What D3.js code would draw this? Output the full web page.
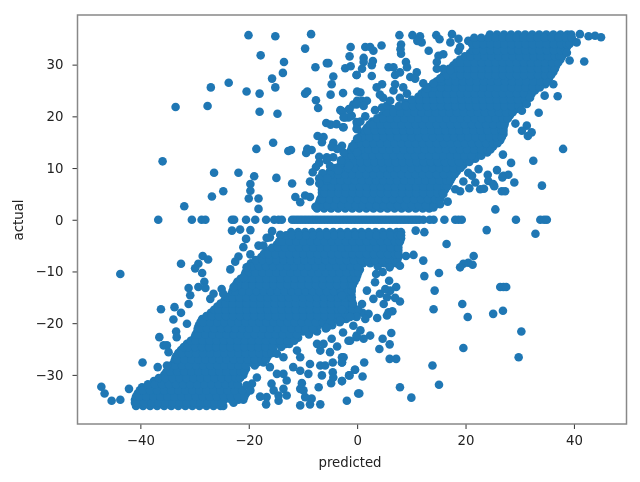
<!DOCTYPE html>
<html>
<head>
<meta charset="utf-8">
<script src="https://cdn.jsdelivr.net/npm/d3@7"></script>
<style>
html,body{margin:0;padding:0;background:#fff;}
svg{display:block;filter:blur(0.45px);}
text{font-family:"DejaVu Sans",sans-serif;fill:#222;}
</style>
</head>
<body>
<svg id="chart" width="640" height="482"></svg>
<script>
const xTicks=[-40,-20,0,20,40];
const yTicks=[-30,-20,-10,0,10,20,30];
const xLabel="predicted";
const yLabel="actual";

// Dense upper cloud, read row by row: one actual value per row, then the predicted values
const upperActual=[2.2,3.4,4.6,5.8,7,8.2,9.4,10.6,11.8,13,14.2,15.4,16.6,17.8,19,20.2,21.4,22.6,23.8,25,26.2,27.4,28.6,29.8,31,32.2,33.4,34.6,35.8];
const upperPredicted=[
[-7.4,-6.1,-4.8,-3.5,-2.2,-0.9,0.4,1.7,3,4.3,5.6,6.9,8.2,9.5,10.8,12.1,13.3],
[-7,-5.5,-4.2,-2.9,-1.6,-0.3,1,2.3,3.6,4.9,6.2,7.5,8.8,10.1,11.4,12.7,14,15.1],
[-6.5,-5.2,-3.9,-2.6,-1.3,0,1.3,2.6,3.9,5.2,6.5,7.8,9.1,10.4,11.7,13,14.3,15.5],
[-6.5,-5.8,-4.5,-3.2,-1.9,-0.6,0.7,2,3.3,4.6,5.9,7.2,8.5,9.8,11.1,12.4,13.7,15,16.2],
[-6.5,-5.2,-3.9,-2.6,-1.3,0,1.3,2.6,3.9,5.2,6.5,7.8,9.1,10.4,11.7,13,14.3,15.6,16.9],
[-5.9,-4.5,-3.2,-1.9,-0.6,0.7,2,3.3,4.6,5.9,7.2,8.5,9.8,11.1,12.4,13.7,15,16.3,17.5],
[-5,-3.7,-2.4,-1.1,0.2,1.5,2.8,4.1,5.4,6.7,8,9.3,10.6,11.9,13.2,14.5,15.8,17.1,18.4],
[-3.1,-1.8,-0.5,0.8,2.1,3.4,4.7,6,7.3,8.6,9.9,11.2,12.5,13.8,15.1,16.4,17.7,19,19.6],
[-2.2,-0.9,0.4,1.7,3,4.3,5.6,6.9,8.2,9.5,10.8,12.1,13.4,14.7,16,17.3,18.6,19.9,21.2,21.8],
[-1.3,-0.4,0.9,2.2,3.5,4.8,6.1,7.4,8.7,10,11.3,12.6,13.9,15.2,16.5,17.8,19.1,20.4,21.7,23,24],
[-0.9,0.4,1.7,3,4.3,5.6,6.9,8.2,9.5,10.8,12.1,13.4,14.7,16,17.3,18.6,19.9,21.2,22.5,23.8,25.1],
[0,1.1,2.4,3.7,5,6.3,7.6,8.9,10.2,11.5,12.8,14.1,15.4,16.7,18,19.3,20.6,21.9,23.2,24.5,25.8,26.4],
[0.9,2.2,3.5,4.8,6.1,7.4,8.7,10,11.3,12.6,13.9,15.2,16.5,17.8,19.1,20.4,21.7,23,24.3,25.6,27],
[1.8,2.9,4.2,5.5,6.8,8.1,9.4,10.7,12,13.3,14.6,15.9,17.2,18.5,19.8,21.1,22.4,23.7,25,26.3,27],
[2.8,4.1,5.4,6.7,8,9.3,10.6,11.9,13.2,14.5,15.8,17.1,18.4,19.7,21,22.3,23.6,24.9,26.2,27.3],
[4.6,5.5,6.8,8.1,9.4,10.7,12,13.3,14.6,15.9,17.2,18.5,19.8,21.1,22.4,23.7,25,26.3,27.6,28.2],
[6.5,7.8,9.1,10.4,11.7,13,14.3,15.6,16.9,18.2,19.5,20.8,22.1,23.4,24.7,26,27.3,28.6,29.2],
[8.9,9.9,11.2,12.5,13.8,15.1,16.4,17.7,19,20.3,21.6,22.9,24.2,25.5,26.8,28.1,29.4,30.4],
[11.3,12.6,13.9,15.2,16.5,17.8,19.1,20.4,21.7,23,24.3,25.6,26.9,28.2,29.5,30.8,31.6],
[12.5,13.6,14.9,16.2,17.5,18.8,20.1,21.4,22.7,24,25.3,26.6,27.9,29.2,30.5,31.8,32.8],
[14,15.3,16.6,17.9,19.2,20.5,21.8,23.1,24.4,25.7,27,28.3,29.6,30.9,32.2,33.5,34.7],
[15.5,16.5,17.8,19.1,20.4,21.7,23,24.3,25.6,26.9,28.2,29.5,30.8,32.1,33.4,34.7,35.4],
[16.4,17.7,19,20.3,21.6,22.9,24.2,25.5,26.8,28.1,29.4,30.7,32,33.3,34.6,35.9,36.2],
[17.7,18.9,20.2,21.5,22.8,24.1,25.4,26.7,28,29.3,30.6,31.9,33.2,34.5,35.8,36.7],
[19,20.3,21.6,22.9,24.2,25.5,26.8,28.1,29.4,30.7,32,33.3,34.6,35.9,37.2,37.5],
[20.8,21.9,23.2,24.5,25.8,27.1,28.4,29.7,31,32.3,33.6,34.9,36.2,37.5,38],
[21.8,23.1,24.4,25.7,27,28.3,29.6,30.9,32.2,33.5,34.8,36.1,37.4,38.7],
[20.5,21.7,23,24.3,25.6,26.9,28.2,29.5,30.8,32.1,33.4,34.7,36,37.3,38.6,39.7],
[24.5,25.8,27.1,28.4,29.7,31,32.3,33.6,34.9,36.2,37.5,38.8,39.5]
];
const upperMidActual=[2.8,4,5.2,6.4,7.6,8.8,10,11.2,12.4,13.6,14.8,16,17.2,18.4,19.6,20.8,22,23.2,24.4,25.6,26.8,28,29.2,30.4,31.6,32.8,34,35.2];
const upperMidPredicted=[
[-7.2,-6.8,-5.5,-4.2,-2.9,-1.6,-0.3,1,2.3,3.6,4.9,6.2,7.5,8.8,10.1,11.4,12.7,14.2],
[-6.8,-6.4,-5.1,-3.8,-2.5,-1.2,0.1,1.4,2.7,4,5.3,6.6,7.9,9.2,10.5,11.8,13.1,14.4,15.3],
[-6.5,-6,-4.7,-3.4,-2.1,-0.8,0.5,1.8,3.1,4.4,5.7,7,8.3,9.6,10.9,12.2,13.5,14.8,15.8],
[-6.5,-6,-4.7,-3.4,-2.1,-0.8,0.5,1.8,3.1,4.4,5.7,7,8.3,9.6,10.9,12.2,13.5,14.8,16.1,16.6],
[-6.2,-5.6,-4.3,-3,-1.7,-0.4,0.9,2.2,3.5,4.8,6.1,7.4,8.7,10,11.3,12.6,13.9,15.2,16.5,17.2],
[-5.4,-4.8,-3.5,-2.2,-0.9,0.4,1.7,3,4.3,5.6,6.9,8.2,9.5,10.8,12.1,13.4,14.7,16,17.3,18],
[-4,-3,-1.7,-0.4,0.9,2.2,3.5,4.8,6.1,7.4,8.7,10,11.3,12.6,13.9,15.2,16.5,17.8,19.1],
[-2.6,-2,-0.7,0.6,1.9,3.2,4.5,5.8,7.1,8.4,9.7,11,12.3,13.6,14.9,16.2,17.5,18.8,20.7],
[-1.7,-1,0.3,1.6,2.9,4.2,5.5,6.8,8.1,9.4,10.7,12,13.3,14.6,15.9,17.2,18.5,19.8,21.1,22.9],
[-1.1,-0.5,0.8,2.1,3.4,4.7,6,7.3,8.6,9.9,11.2,12.5,13.8,15.1,16.4,17.7,19,20.3,21.6,22.9,24,24.6],
[-0.4,0.4,1.7,3,4.3,5.6,6.9,8.2,9.5,10.8,12.1,13.4,14.7,16,17.3,18.6,19.9,21.2,22.5,23.8,25.1,25.9],
[0.5,1,2.3,3.6,4.9,6.2,7.5,8.8,10.1,11.4,12.7,14,15.3,16.6,17.9,19.2,20.5,21.8,23.1,24.4,25.7,26.7],
[1.4,2,3.3,4.6,5.9,7.2,8.5,9.8,11.1,12.4,13.7,15,16.3,17.6,18.9,20.2,21.5,22.8,24.1,25.4,26.7,27],
[2.3,3,4.3,5.6,6.9,8.2,9.5,10.8,12.1,13.4,14.7,16,17.3,18.6,19.9,21.2,22.5,23.8,25.1,26.4,27.2],
[3.7,4.8,6.1,7.4,8.7,10,11.3,12.6,13.9,15.2,16.5,17.8,19.1,20.4,21.7,23,24.3,25.6,26.9,27.8],
[5.5,6.7,8,9.3,10.6,11.9,13.2,14.5,15.8,17.1,18.4,19.7,21,22.3,23.6,24.9,26.2,27.5,28.7],
[7.7,9,10.3,11.6,12.9,14.2,15.5,16.8,18.1,19.4,20.7,22,23.3,24.6,25.9,27.2,28.5,29.8],
[10.1,11.5,12.8,14.1,15.4,16.7,18,19.3,20.6,21.9,23.2,24.5,25.8,27.1,28.4,29.7,31],
[11.9,12.6,13.9,15.2,16.5,17.8,19.1,20.4,21.7,23,24.3,25.6,26.9,28.2,29.5,30.8,32.2],
[13.2,14.2,15.5,16.8,18.1,19.4,20.7,22,23.3,24.6,25.9,27.2,28.5,29.8,31.1,32.4,33.7],
[14.7,15.6,16.9,18.2,19.5,20.8,22.1,23.4,24.7,26,27.3,28.6,29.9,31.2,32.5,33.8,35],
[16,16.5,17.8,19.1,20.4,21.7,23,24.3,25.6,26.9,28.2,29.5,30.8,32.1,33.4,34.7,35.8],
[17,17.8,19.1,20.4,21.7,23,24.3,25.6,26.9,28.2,29.5,30.8,32.1,33.4,34.7,36,36.5],
[18.3,19.1,20.4,21.7,23,24.3,25.6,26.9,28.2,29.5,30.8,32.1,33.4,34.7,36,37.1],
[19.9,20.9,22.2,23.5,24.8,26.1,27.4,28.7,30,31.3,32.6,33.9,35.2,36.5,37.4,37.8],
[21.3,22,23.3,24.6,25.9,27.2,28.5,29.8,31.1,32.4,33.7,35,36.3,37.6,38.4],
[21.2,22,23.3,24.6,25.9,27.2,28.5,29.8,31.1,32.4,33.7,35,36.3,37.6,38.6,39.2],
[21.6,22.9,24.2,25.5,26.8,28.1,29.4,30.7,32,33.3,34.6,35.9,37.2,38.5,39.6]
];

// Dense lower cloud
const lowerActual=[-36,-34.8,-33.6,-32.4,-31.2,-30,-28.8,-27.6,-26.4,-25.2,-24,-22.8,-21.6,-20.4,-19.2,-18,-16.8,-15.6,-14.4,-13.2,-12,-10.8,-9.6,-8.4,-7.2,-6,-4.8,-3.6,-2.4];
const lowerPredicted=[
[-40.8,-39.5,-38.2,-36.9,-35.6,-34.3,-33,-31.7,-30.4,-29.1,-27.8,-26.5,-25.2,-24.7],
[-41,-40.1,-38.8,-37.5,-36.2,-34.9,-33.6,-32.3,-31,-29.7,-28.4,-27.1,-25.8,-24.5,-23.2,-21.9,-21],
[-40.5,-39.5,-38.2,-36.9,-35.6,-34.3,-33,-31.7,-30.4,-29.1,-27.8,-26.5,-25.2,-23.9,-22.6,-21.3,-20.5],
[-39.7,-38.8,-37.5,-36.2,-34.9,-33.6,-32.3,-31,-29.7,-28.4,-27.1,-25.8,-24.5,-23.2,-21.9],
[-37.5,-36.2,-34.9,-33.6,-32.3,-31,-29.7,-28.4,-27.1,-25.8,-24.5,-23.2,-22.3],
[-35.6,-34.7,-33.4,-32.1,-30.8,-29.5,-28.2,-26.9,-25.6,-24.3,-23,-21.7,-21],
[-34.7,-33.4,-32.1,-30.8,-29.5,-28.2,-26.9,-25.6,-24.3,-23,-21.7,-20.5],
[-33.8,-32.7,-31.4,-30.1,-28.8,-27.5,-26.2,-24.9,-23.6,-22.3,-21,-19.7,-18.4,-17.3],
[-33.4,-32.1,-30.8,-29.5,-28.2,-26.9,-25.6,-24.3,-23,-21.7,-20.4,-19.1,-17.8,-16.5],
[-32.5,-31.4,-30.1,-28.8,-27.5,-26.2,-24.9,-23.6,-22.3,-21,-19.7,-18.4,-17.1,-15.8,-15.5],
[-31.4,-30.1,-28.8,-27.5,-26.2,-24.9,-23.6,-22.3,-21,-19.7,-18.4,-17.1,-15.8,-14.5,-13.2,-12.5],
[-30,-29.1,-27.8,-26.5,-25.2,-23.9,-22.6,-21.3,-20,-18.7,-17.4,-16.1,-14.8,-13.5,-12.2,-10.9],
[-29.5,-28.2,-26.9,-25.6,-24.3,-23,-21.7,-20.4,-19.1,-17.8,-16.5,-15.2,-13.9,-12.6,-11.3,-10,-8.7,-7.4],
[-29.2,-28,-26.7,-25.4,-24.1,-22.8,-21.5,-20.2,-18.9,-17.6,-16.3,-15,-13.7,-12.4,-11.1,-9.8,-8.5,-7.2,-5.9,-4.6],
[-28.6,-27.3,-26,-24.7,-23.4,-22.1,-20.8,-19.5,-18.2,-16.9,-15.6,-14.3,-13,-11.7,-10.4,-9.1,-7.8,-6.5,-5.2,-3.9,-2.6,-2],
[-27,-25.8,-24.5,-23.2,-21.9,-20.6,-19.3,-18,-16.7,-15.4,-14.1,-12.8,-11.5,-10.2,-8.9,-7.6,-6.3,-5,-3.7,-2.4,-1.1,0.2,1],
[-25.8,-24.5,-23.2,-21.9,-20.6,-19.3,-18,-16.7,-15.4,-14.1,-12.8,-11.5,-10.2,-8.9,-7.6,-6.3,-5,-3.7,-2.4,-1.1,-0.7],
[-24.5,-23.6,-22.3,-21,-19.7,-18.4,-17.1,-15.8,-14.5,-13.2,-11.9,-10.6,-9.3,-8,-6.7,-5.4,-4.1,-2.8,-1.5,-1],
[-23.2,-21.9,-20.6,-19.3,-18,-16.7,-15.4,-14.1,-12.8,-11.5,-10.2,-8.9,-7.6,-6.3,-5,-3.7,-2.4,-1.1],
[-22.7,-21.4,-20.1,-18.8,-17.5,-16.2,-14.9,-13.6,-12.3,-11,-9.7,-8.4,-7.1,-5.8,-4.5,-3.2,-1.9,-1],
[-22.1,-20.8,-19.5,-18.2,-16.9,-15.6,-14.3,-13,-11.7,-10.4,-9.1,-7.8,-6.5,-5.2,-3.9,-2.6,-1.3,-0.5],
[-20.8,-19.9,-18.6,-17.3,-16,-14.7,-13.4,-12.1,-10.8,-9.5,-8.2,-6.9,-5.6,-4.3,-3,-1.7,-0.4,0],
[-20.3,-19,-17.7,-16.4,-15.1,-13.8,-12.5,-11.2,-9.9,-8.6,-7.3,-6,-4.7,-3.4,-2.1,-0.8,0.5],
[-19.6,-18.4,-17.1,-15.8,-14.5,-13.2,-11.9,-10.6,-9.3,-8,-6.7,-5.4,-4.1,-2.8,-1.5,-0.2,1.1,2.4,3.7,5,6.3,7.2],
[-17.7,-16.4,-15.1,-13.8,-12.5,-11.2,-9.9,-8.6,-7.3,-6,-4.7,-3.4,-2.1,-0.8,0.5,1.8,3.1,4.4,5.7,7,7.6],
[-16.6,-15.7,-14.4,-13.1,-11.8,-10.5,-9.2,-7.9,-6.6,-5.3,-4,-2.7,-1.4,-0.1,1.2,2.5,3.8,5.1,6.4,7.6],
[-14.8,-13.5,-12.2,-10.9,-9.6,-8.3,-7,-5.7,-4.4,-3.1,-1.8,-0.5,0.8,2.1,3.4,4.7,6,7.3,7.6],
[-14,-12.8,-11.5,-10.2,-8.9,-7.6,-6.3,-5,-3.7,-2.4,-1.1,0.2,1.5,2.8,4.1,5.4,6.7,8,8.1],
[-12.2,-10.9,-9.6,-8.3,-7,-5.7,-4.4,-3.1,-1.8,-0.5,0.8,2.1,3.4,4.7,6,7.3,8.1]
];
const lowerMidActual=[-35.4,-34.2,-33,-31.8,-30.6,-29.4,-28.2,-27,-25.8,-24.6,-23.4,-22.2,-21,-19.8,-18.6,-17.4,-16.2,-15,-13.8,-12.6,-11.4,-10.2,-9,-7.8,-6.6,-5.4,-4.2,-3];
const lowerMidPredicted=[
[-41,-40.6,-39.3,-38,-36.7,-35.4,-34.1,-32.8,-31.5,-30.2,-28.9,-27.6,-26.3,-25,-22.8],
[-40.8,-40.2,-38.9,-37.6,-36.3,-35,-33.7,-32.4,-31.1,-29.8,-28.5,-27.2,-25.9,-24.6,-23.3,-22,-20.8],
[-40.1,-39.5,-38.2,-36.9,-35.6,-34.3,-33,-31.7,-30.4,-29.1,-27.8,-26.5,-25.2,-23.9,-22.6,-21.2],
[-38.6,-37.3,-36,-34.7,-33.4,-32.1,-30.8,-29.5,-28.2,-26.9,-25.6,-24.3,-23,-22],
[-36.6,-35.4,-34.1,-32.8,-31.5,-30.2,-28.9,-27.6,-26.3,-25,-23.7,-22.4,-21.6],
[-35.2,-34.5,-33.2,-31.9,-30.6,-29.3,-28,-26.7,-25.4,-24.1,-22.8,-21.5,-20.8],
[-34.3,-33.6,-32.3,-31,-29.7,-28.4,-27.1,-25.8,-24.5,-23.2,-21.9,-20.6,-18.9],
[-33.6,-33.2,-31.9,-30.6,-29.3,-28,-26.7,-25.4,-24.1,-22.8,-21.5,-20.2,-18.9,-17.6,-16.8],
[-33,-32.3,-31,-29.7,-28.4,-27.1,-25.8,-24.5,-23.2,-21.9,-20.6,-19.3,-18,-16.7,-15.8],
[-32,-31.2,-29.9,-28.6,-27.3,-26,-24.7,-23.4,-22.1,-20.8,-19.5,-18.2,-16.9,-15.6,-14],
[-30.7,-29.8,-28.5,-27.2,-25.9,-24.6,-23.3,-22,-20.7,-19.4,-18.1,-16.8,-15.5,-14.2,-12.9,-11.6],
[-29.8,-29.3,-28,-26.7,-25.4,-24.1,-22.8,-21.5,-20.2,-18.9,-17.6,-16.3,-15,-13.7,-12.4,-11.1,-8.9],
[-29.4,-29,-27.7,-26.4,-25.1,-23.8,-22.5,-21.2,-19.9,-18.6,-17.3,-16,-14.7,-13.4,-12.1,-10.8,-9.5,-8.2,-5.8],
[-28.9,-28.4,-27.1,-25.8,-24.5,-23.2,-21.9,-20.6,-19.3,-18,-16.7,-15.4,-14.1,-12.8,-11.5,-10.2,-8.9,-7.6,-6.3,-5,-3.2],
[-27.8,-26.8,-25.5,-24.2,-22.9,-21.6,-20.3,-19,-17.7,-16.4,-15.1,-13.8,-12.5,-11.2,-9.9,-8.6,-7.3,-6,-4.7,-3.4,-2.1,-0.5],
[-26.4,-25.6,-24.3,-23,-21.7,-20.4,-19.1,-17.8,-16.5,-15.2,-13.9,-12.6,-11.3,-10,-8.7,-7.4,-6.1,-4.8,-3.5,-2.2,-0.9,0.2],
[-25.2,-24.3,-23,-21.7,-20.4,-19.1,-17.8,-16.5,-15.2,-13.9,-12.6,-11.3,-10,-8.7,-7.4,-6.1,-4.8,-3.5,-2.2,-0.8],
[-23.9,-23,-21.7,-20.4,-19.1,-17.8,-16.5,-15.2,-13.9,-12.6,-11.3,-10,-8.7,-7.4,-6.1,-4.8,-3.5,-2.2,-1],
[-23,-22.5,-21.2,-19.9,-18.6,-17.3,-16,-14.7,-13.4,-12.1,-10.8,-9.5,-8.2,-6.9,-5.6,-4.3,-3,-1.7,-1],
[-22.4,-21.9,-20.6,-19.3,-18,-16.7,-15.4,-14.1,-12.8,-11.5,-10.2,-8.9,-7.6,-6.3,-5,-3.7,-2.4,-1.1,-0.8],
[-21.5,-20.6,-19.3,-18,-16.7,-15.4,-14.1,-12.8,-11.5,-10.2,-8.9,-7.6,-6.3,-5,-3.7,-2.4,-1.1,-0.2],
[-20.6,-20.1,-18.8,-17.5,-16.2,-14.9,-13.6,-12.3,-11,-9.7,-8.4,-7.1,-5.8,-4.5,-3.2,-1.9,-0.6,0.2],
[-20,-19.4,-18.1,-16.8,-15.5,-14.2,-12.9,-11.6,-10.3,-9,-7.7,-6.4,-5.1,-3.8,-2.5,-1.2,0.1,3.8],
[-18.7,-17.5,-16.2,-14.9,-13.6,-12.3,-11,-9.7,-8.4,-7.1,-5.8,-4.5,-3.2,-1.9,-0.6,0.7,2,3.3,4.6,5.9,7,7.4],
[-17.2,-16.4,-15.1,-13.8,-12.5,-11.2,-9.9,-8.6,-7.3,-6,-4.7,-3.4,-2.1,-0.8,0.5,1.8,3.1,4.4,5.7,7,7.6],
[-15.7,-14.6,-13.3,-12,-10.7,-9.4,-8.1,-6.8,-5.5,-4.2,-2.9,-1.6,-0.3,1,2.3,3.6,4.9,6.2,7.5,7.6],
[-14.4,-13.8,-12.5,-11.2,-9.9,-8.6,-7.3,-6,-4.7,-3.4,-2.1,-0.8,0.5,1.8,3.1,4.4,5.7,7,7.9],
[-13.1,-12,-10.7,-9.4,-8.1,-6.8,-5.5,-4.2,-2.9,-1.6,-0.3,1,2.3,3.6,4.9,6.2,7.5,8.1]
];

// Points with actual exactly 0
const zeroPredicted=[-36.7,-30.5,-28.7,-28,-23.1,-22.7,-20.5,-18.8,-16.8,-15.3,-14.5,-13.9,-12,-11.5,-11,-10.5,-10,-9.5,-9,-8.5,-8,-7.5,-7,-6.5,-6,-5.5,-5,-4.5,-4,-3.5,-3,-2.5,-2,-1.5,-1,-0.5,0,0.5,1,1.5,2,2.5,3,3.5,4,4.5,5,5.5,6,6.5,7,7.5,8,8.5,9,9.5,10,10.5,11,11.5,12.2,13.4,14.1,16.1,18.1,18.7,19.3,29.3,33.8,34.5,35];

// Scattered points above the zero line: predicted, then actual
const scatterUpperX=[-20.05,-15.1,-8.5,-9.6,-1.2,-1.4,-17.8,-13.5,-7.7,-5.6,-5.3,-2.2,-1.2,-0.1,-13.7,-15.7,-4.4,-4.7,-23.7,-27,-15.1,-20.4,-18,-9.6,-9.2,-4.9,-2.6,0,-7.6,-7.2,-33.5,-27.6,-18,-14.7,0,-0.7,-1.4,-3.1,-2.2,-1,-5.7,-4.9,-3.8,-2.6,0,0,-7.3,-6.2,-6.5,-15.5,-18.6,-12.7,-12.2,-9.2,-8.4,-9.4,-4.4,-4.7,-2.8,-3.7,-2.5,0,-0.7,0,-7,-5.6,-4.4,-35.9,-26.4,-21.9,-19,-14.9,-12,-19.7,-19.7,-24.7,-26.8,-20,-18.2,-18.2,-31.9,-11.4,-10.5,-9.6,-8.7,-7.7,-7,-5.6,-7.6,-8.2,-8.7,-6.4,-5,-7,-7,-5.5,-3.5,-1.5,-3,7.8,10.2,11.6,11.9,11.1,14.6,15.2,17.5,17.2,18.7,8.1,8.1,8,4.5,1.5,2.4,3,13.2,15,15.9,14.7,14.7,15.9,17.2,18.7,19,1.2,1.2,2.9,2.7,0.9,-0.1,2.7,5.8,6.7,7,7.9,9,9.2,11,9.8,10.7,4.6,3.6,4.2,4.8,7,6.7,8.5,9.2,7.9,12.2,12.9,14.1,15.3,0.6,0.9,-0.1,1.8,1.2,-1.5,-2.8,-1.6,-2.5,-2.5,-0.1,-0.1,1.5,0.6,3.3,4.6,5.5,6.1,41.9,39.2,45,43.9,42.7,41.1,40.5,38.7,37,34.6,36.2,33.5,38,32.5,34.1,28.4,26.9,29,25.5,31.3,32.2,31.5,30.4,29.2,31.3,30.4,31.9,22.4,24.1,25.8,27,27.9,26.8,24.2,25.1,25.3,19.6,20.7,21.8,20.5,21.2,22.7,23.4,26.7,27.3,18.1,19,16.7,15.9,15.3,14.1];
const scatterUpperY=[35.7,35.5,35.9,33.1,33.4,31.6,31.8,30.5,29.5,30.3,30.3,29.3,29.7,28,28.4,27.3,27.7,26.2,26.5,25.6,25.6,24.8,24.4,24.4,24.8,24.2,24.5,24.8,23.1,21.6,21.8,22,20.9,20.5,23,22.3,21.4,21.2,19.8,20.1,18.7,18.4,18.5,17.9,18.5,17.5,16.2,16,15,14.9,13.7,13.3,13.5,13.7,13.5,12.9,14.9,14.1,14.3,13.7,13,15.7,14.1,13,12.2,12.1,12.1,11.3,9.1,9.1,8.4,8.1,7,6.9,5.6,5.5,4.5,4.1,4.1,2.1,2.6,4.4,3.4,4.7,4.4,2.5,11,11.5,10.2,9.2,7.4,9,10.4,8,7,8,9.5,10.5,11.5,35.7,35.7,35.5,34.3,34.6,35.7,34.9,35.9,34.3,35,33.9,32.1,33,33.7,33.4,33.4,32.7,32.7,31.7,32,30.5,29.2,29.2,28.9,32.7,33.4,31.3,30.5,30.7,29.9,29.2,28,27.8,29.5,29.5,28,28.5,30.5,29.5,28.5,27.6,27.3,26.2,25.6,24.2,23.6,26.2,25,25.6,24.4,23.6,26.4,25.4,26.4,27.3,24.6,23,22.3,23,22,21.4,21,19.8,19.8,17.9,18.9,17.6,20,19,21.2,21.7,22.1,23,30.6,30.8,35.3,35.6,35.5,35.9,34.3,32.3,23.9,24,26.2,20.7,13.7,11.4,6.6,11,12.6,7.2,2,18.2,16.9,16.2,17.2,18.6,22.4,21.1,23.6,9.8,8.7,9.6,8.5,8.7,8.2,7.5,6.9,6.5,7.4,6.1,7.2,9.1,8.5,5.9,6,5.5,5.5,5.9,5.5,3.5,5,3,2.4];

// Scattered points below the zero line: predicted, then actual
const scatterLowerX=[-23.1,-21.6,-19.7,-20.5,-21,-21.9,-22.5,-23.4,-19.7,-18.2,-17.3,-16.1,-16.7,-15.7,-14.2,-43.7,-32.5,-28.5,-27.5,-29.3,-29.9,-28.6,-28.2,-29.3,-28,-31.1,-30.8,-31.1,-36.2,-33.7,-32.5,-33.9,-31.4,-33.4,-33.3,-36.5,-35.7,-35.1,-34.8,-39.6,-36.8,-35.1,-47.2,-46.6,-45.3,-43.7,-42.1,-27.1,-26.5,-25,-24.7,-22.8,-20.4,-21,-15.8,-15.4,-16.7,-17.9,-16.8,-14.5,-14.5,-13,-13.6,-10.5,-8.7,-6.8,-8.4,-7.1,-10.5,-9.9,-9.6,-10.2,-6.5,-4.8,-2.8,-4.5,-4.4,-1.4,-0.4,0.2,-1.9,-8.7,-6.8,-5.9,-4.5,-2.8,-2.5,-18.5,-19.4,-20.4,-19.7,-16.1,-14.8,-13.6,-13,-10.5,-9,-11.8,-11.1,-10.5,-14.8,-13.6,-5.6,-3.1,-2.6,-4.7,-1.6,-0.1,-7.4,-6.8,-5,-3.7,-6.2,10.8,12.4,16.5,9,10.4,12.2,21.5,20.5,21.3,19.6,19,15.1,12.4,14.3,26.4,27,27.5,19.4,14.1,20.4,25.1,26.9,30.3,19.6,29.8,23.9,32.9,13.9,15.1,7.9,10,0.4,1.3,-0.4,-1.5,1,-2.8,-2.8,-2.8,6,7.2,4.1,6,4.7,6.3,2.4,1.2,-0.1,-1.3,0.6,-0.7,3.7,2.1,1.5,-0.1,-1.3,5.5,6.5,5.8,5.9,7.2,7.9,7,4.9,3,5.5,4.2,6.1,5.2,1.8,3.3,3.5,4.7,7.9,6,0.9,-2.8,-2.8];
const scatterLowerY=[-2.1,-1.9,-2,-3.7,-5.3,-7.1,-8.1,-9.6,-6.7,-5,-5,-3.4,-3.5,-2.2,-2.9,-10.5,-8.5,-7,-7.7,-8.5,-9.4,-10.3,-12,-13,-13.2,-13.2,-14.6,-16.3,-17.3,-16.9,-18,-19.3,-20.1,-21.6,-22.7,-22.7,-24.3,-24.3,-25.6,-27.6,-28.5,-28.2,-32.3,-33.6,-35,-34.8,-32.7,-15.3,-14.3,-13.4,-14.3,-13,-9.2,-11.2,-31.7,-33,-34.3,-34.2,-35.7,-35,-34,-34,-32.7,-35.9,-35.7,-35.7,-34.6,-32.4,-32.7,-33,-34.3,-31.6,-30.1,-31.6,-31.2,-29.5,-30.5,-30.1,-29,-33.6,-35,-27.9,-28.2,-28.2,-27.6,-27.6,-26.6,-30.5,-31.7,-32,-33,-28.5,-29.8,-29.8,-31.1,-29.2,-29.8,-28.5,-25.3,-26.6,-25.9,-26.6,-20.9,-19.5,-21.8,-23,-23.4,-22.7,-24,-25.3,-25.6,-24.5,-24,-2.1,-2.4,-4.7,-7,-6.8,-7.9,-7,-8.3,-8.7,-8.5,-9.2,-10.3,-10.9,-13.7,-13,-13,-13,-16.3,-17.3,-18.8,-18.2,-17.6,-21.6,-24.8,-26.6,-2,-2.7,-28.2,-31.9,-32.4,-34.4,-33.6,-27.6,-29,-30.1,-30.3,-31.2,-26.6,-27.6,-26.9,-26.9,-25,-24.1,-23,-21.9,-22.4,-23,-22.4,-23.4,-21.4,-20.5,-19,-18.2,-19.2,-18.8,-18.8,-18.5,-17.7,-17.9,-11.8,-13,-15.8,-15.1,-16.3,-15.3,-15,-14.3,-13.7,-13.4,-13.7,-12.1,-10.5,-10.1,-8.9,-9.2,-16.3,-14.6,-17.4];

const points=[];
upperActual.forEach((y,i)=>upperPredicted[i].forEach(x=>points.push([x,y])));
upperMidActual.forEach((y,i)=>upperMidPredicted[i].forEach(x=>points.push([x,y])));
lowerActual.forEach((y,i)=>lowerPredicted[i].forEach(x=>points.push([x,y])));
lowerMidActual.forEach((y,i)=>lowerMidPredicted[i].forEach(x=>points.push([x,y])));
zeroPredicted.forEach(x=>points.push([x,0]));
scatterUpperX.forEach((x,i)=>points.push([x,scatterUpperY[i]]));
scatterLowerX.forEach((x,i)=>points.push([x,scatterLowerY[i]]));

const svg=d3.select("#chart");
const plotLeft=77.5,plotRight=626.5,plotTop=15,plotBottom=424;
const x=d3.scaleLinear().domain([-51.6,49.7]).range([plotLeft,plotRight]);
const y=d3.scaleLinear().domain([-39.5,39.6]).range([plotBottom,plotTop]);

svg.append("g").selectAll("circle").data(points).join("circle")
  .attr("cx",d=>x(d[0])).attr("cy",d=>y(d[1])).attr("r",4.3).attr("fill","#1f77b4");

const gx=svg.append("g").attr("transform",`translate(0,${plotBottom})`)
  .call(d3.axisBottom(x).tickValues(xTicks).tickFormat(d3.format("d")).tickSize(5).tickPadding(7));
const gy=svg.append("g").attr("transform",`translate(${plotLeft},0)`)
  .call(d3.axisLeft(y).tickValues(yTicks).tickFormat(d3.format("d")).tickSize(5).tickPadding(9));
[gx,gy].forEach(g=>{
  g.select(".domain").remove();
  g.selectAll("line").attr("stroke","#333").attr("stroke-width",1);
  g.selectAll("text").attr("font-size",13.3).attr("fill","#222").attr("font-family","DejaVu Sans");
});
svg.append("rect").attr("x",plotLeft).attr("y",plotTop).attr("width",plotRight-plotLeft).attr("height",plotBottom-plotTop)
  .attr("fill","none").attr("stroke","#888").attr("stroke-width",1.5);

svg.append("text").attr("x",350).attr("y",467).attr("text-anchor","middle").attr("font-size",13.3).text(xLabel);
svg.append("text").attr("transform","translate(23,220) rotate(-90)").attr("text-anchor","middle").attr("font-size",13.3).text(yLabel);
</script>
</body>
</html>
